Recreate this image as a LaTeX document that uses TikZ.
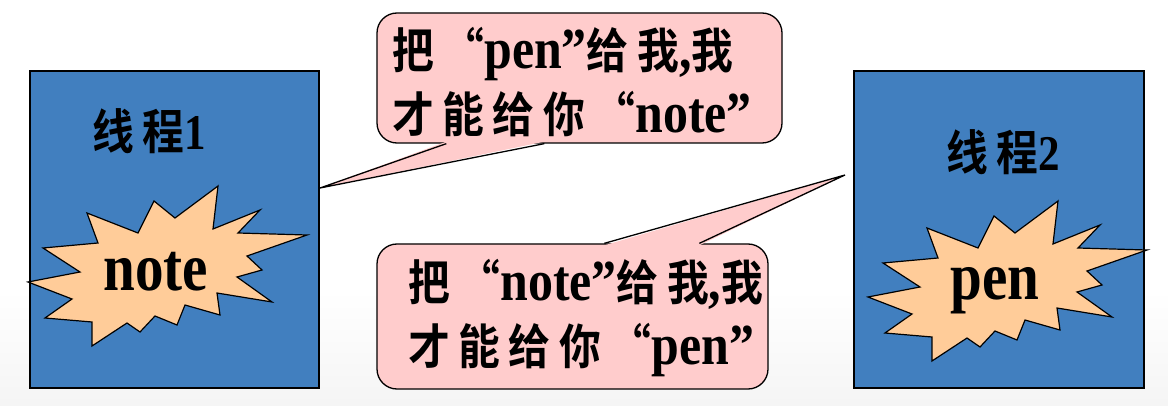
\documentclass[tikz,border=0pt]{standalone}
\usepackage{fontspec}
\setmainfont{Liberation Serif}[FakeStretch=0.86]
\newfontfamily\burstfont{Liberation Serif}[FakeStretch=0.84]
\newfontfamily\zhfont{Noto Sans CJK SC Bold}[BoldFont={Noto Sans CJK SC Bold},FakeStretch=0.87,LetterSpace=18]
\newcommand\zh[1]{{\zhfont\fontsize{48}{63}\selectfont#1}}
\usetikzlibrary{positioning}
\definecolor{threadblue}{RGB}{65,127,191}
\definecolor{saypink}{RGB}{255,204,204}
\definecolor{burstfill}{RGB}{255,204,153}
\tikzset{
  thread/.style={draw=black, line width=1.6pt, fill=threadblue, inner sep=0pt},
  threadlbl/.style={font=\fontsize{50}{60}\selectfont\bfseries, inner sep=0pt},
  burst/.style={draw=black, line width=1.2pt, fill=burstfill},
  burstlbl/.style={font=\burstfont\fontsize{68}{80}\selectfont\bfseries, inner sep=0pt},
  saybox/.style={draw=black, line width=1.3pt, fill=saypink, rounded corners=20pt, inner sep=0pt},
  saytext/.style={font=\fontsize{58}{64}\selectfont\bfseries, align=left, inner sep=0pt, anchor=north west},
  pointer/.style={draw=black, line width=1.3pt},
  pics/explosion/.style={code={
    \draw[burst] (61,-86) -- (18,-54) -- (-3,-71) -- (-19,-39) -- (-70,-59) -- (-59,-29)
      -- (-114,-24) -- (-77,0) -- (-129,10) -- (-85,27) -- (-112,46) -- (-65,50)
      -- (-65,74) -- (-30,51) -- (-17,60) -- (-2,44) -- (20,53) -- (28,33)
      -- (63,43) -- (60,21) -- (115,30) -- (80,5) -- (105,-2) -- (90,-16)
      -- (150,-37) -- (81,-39) -- (103,-62) -- (56,-43) -- cycle;}},
}

\begin{document}
\begin{tikzpicture}[x=1pt,y=-1pt]
  \useasboundingbox (0,0) rectangle (1168,406);
  \fill[white] (0,0) rectangle (1168,406);
  \shade[top color=white, bottom color=black!4] (0,290) rectangle (1168,406);
  \node[thread, minimum width=289pt, minimum height=317pt] (t1) at (174.5,229.5) {};
  \node[thread, minimum width=290pt, minimum height=317pt] (t2) at (999,229.5) {};
  \node[threadlbl] (t1lbl) at (149,131) {\zh{线程}1};
  \node[threadlbl] (t2lbl) at (1003,152) {\zh{线程}2};
  \pic (b1) at (157,272) {explosion};
  \pic (b2) at (997,287) {explosion};
  \node[burstlbl] (note) at (156,272) {note};
  \node[burstlbl] (pen) at (995,291) {pen};
  \node[saybox, minimum width=405pt, minimum height=130pt] (say1) at (579.5,78) {};
  \node[saybox, minimum width=391pt, minimum height=145pt] (say2) at (572.5,316.5) {};
  \coordinate (tip1) at (320,188);
  \coordinate (tip2) at (845,175);
  \fill[saypink] ([xshift=70pt,yshift=2pt]say1.south west) -- (tip1) -- ([xshift=168pt,yshift=2pt]say1.south west) -- cycle;
  \draw[pointer] ([xshift=70pt]say1.south west) -- (tip1) -- ([xshift=168pt]say1.south west);
  \fill[saypink] ([xshift=228pt,yshift=-2pt]say2.north west) -- (tip2) -- ([xshift=323pt,yshift=-2pt]say2.north west) -- cycle;
  \draw[pointer] ([xshift=228pt]say2.north west) -- (tip2) -- ([xshift=323pt]say2.north west);
  \node[saytext] (say1txt) at (392,27) {\zh{把“}pen”\zh{给我},\zh{我}\\\zh{才能给你“}note”};
  \node[saytext] (say2txt) at (408,259) {\zh{把“}note”\zh{给我},\zh{我}\\\zh{才能给你“}pen”};
\end{tikzpicture}
\end{document}
